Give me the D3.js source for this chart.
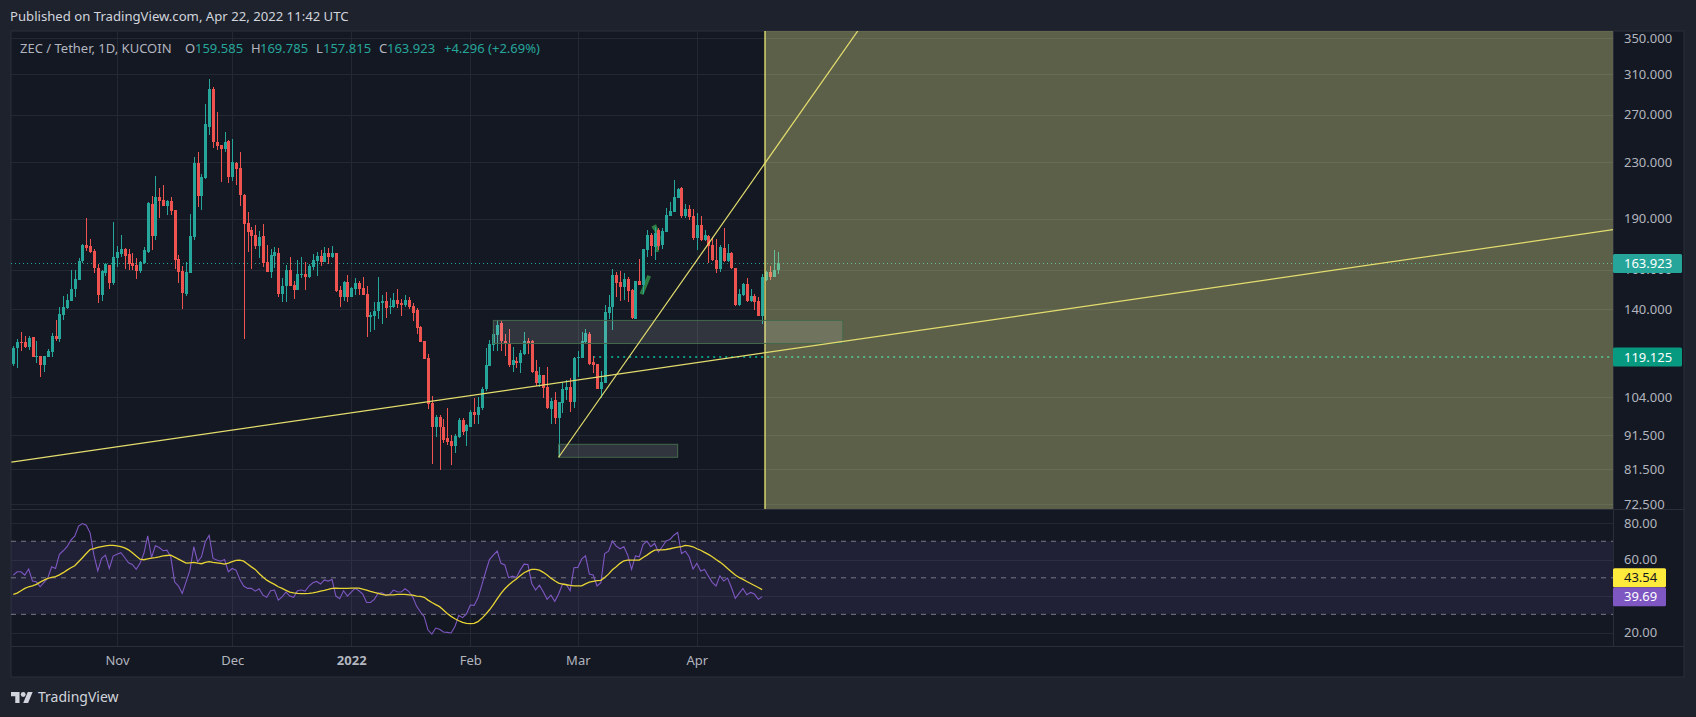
<!DOCTYPE html>
<html>
<head>
<meta charset="utf-8">
<script src="https://cdn.jsdelivr.net/npm/d3@7"></script>
<style>
  html, body { margin: 0; padding: 0; background: #1e222d; overflow: hidden; }
  svg { display: block; }
  text { font-family: "Noto Sans", sans-serif; }
  .axis path, .axis line { display: none; }
  .axis text { fill: #b2b5be; font-family: "Noto Sans", sans-serif; font-size: 13px; }
</style>
</head>
<body>
<svg id="chart" width="1696" height="717"></svg>
<script>
// DATA
const firstDay = '2021-10-05';
const lastDay = '2022-04-22';

const opens = [
  116.3,123.0,125.3,125.3,123.4,127.3,119.2,119.5,116.0,119.1,
  121.1,127.7,126.5,137.4,140.4,143.9,149.8,154.4,164.6,173.7,
  173.2,170.3,160.9,146.8,158.2,162.5,152.9,166.4,168.7,171.5,
  168.7,163.7,162.5,159.3,163.7,169.8,199.7,179.2,204.5,202.4,
  198.4,201.7,195.7,165.8,159.3,147.3,158.2,178.6,229.4,205.3,
  218,259,294.6,246.2,243.8,240.5,247,219,229.4,225.6,
  205.9,187.3,182.9,179.8,173.2,179.2,164.2,158.7,167.5,169.2,
  147.3,151.4,159.8,151.9,149.3,157.1,157.6,156,161.4,164.7,
  167.5,164.2,169.2,166.9,169.2,149.3,145.8,153.4,145.8,149.8,
  152.9,150.3,147.3,136.3,136.8,139.1,143,143.9,141,141,
  144.4,143,142,144.4,141.5,139.6,131.8,125.7,118.7,102,
  94,97.3,94,90.6,89.7,88.2,90.9,96.3,92.8,94,
  99,98,100.3,106.9,115.5,124,128.3,133.5,125.7,124.8,
  115.9,117.5,116.7,120.3,125.7,125.7,113.6,109.1,112.1,107.6,
  100,103,97,102,106.5,107.6,102.3,118.7,118.7,125.3,
  128.7,117.1,116.3,106.9,109.1,138.2,141,157.1,153.4,150.8,
  154.9,149.3,135.3,153.9,151.9,170.9,179.8,172.6,182.9,173.7,
  181.7,191.6,194.4,203.8,210.8,191.6,196.4,191.6,178,186,
  176.8,179.2,173.7,165.3,160.3,172,164.7,169.2,160.9,142,
  146.8,152.4,143.9,146.3,143.9,136.8,154.4,158.7,156,159.585
];
const highs = [
  123.8,126.8,129.5,127.8,128.1,127.6,125.7,119.5,119.5,122.3,
  129,134.9,140.9,146.3,147.2,159.6,159.6,166.2,174.3,190.5,
  177.2,171.3,163.1,159.8,163.7,162.5,188,173.2,179.8,172.2,
  171.5,169.2,166.4,164.7,172.6,200.9,205.2,219.5,210.8,212.9,
  202.4,204.5,195.7,168.1,162,164.2,193,234,238.2,221,
  280,304.7,296.6,272.6,243.8,254.7,247.9,248.7,230.2,238.2,
  206.6,194.4,184.8,186,182.3,186.7,173.7,171.5,172.6,172,
  155.4,162.5,167,153.9,165.3,167,164.2,163,168.7,169.8,
  170.9,172.6,172,173.2,169.2,151.4,153.9,157.1,150.8,155.4,
  153.9,156,151.4,138.7,143.4,156,146.8,148.3,145.3,147.8,
  149.8,144.9,146.8,145.8,143,140.5,132.3,125.7,120.3,104.4,
  98,98,96.6,100.3,91.5,91.8,97,97,95,99.6,
  103.7,104,107.6,122.7,126.1,130.9,134.9,134.5,128.7,130.9,
  123.1,119.1,121.9,129.6,127,126.1,117.9,115.2,112.1,115.2,
  103.7,105.8,102.3,109.4,110.2,111,119.1,121.5,129.6,130.9,
  129.6,119.5,116.3,113.6,142,146.8,160.3,158.7,159.3,158.2,
  156,149.8,153.9,165.8,171.5,182.9,181,184.8,184.2,184.2,
  197,201,216.6,210.8,211.5,199.7,199,196.4,193.7,191.9,
  182.9,179.8,178.6,177.4,173.7,184.2,174.3,169.8,160.9,149.8,
  152.9,155.4,149.8,147.3,145.8,157.6,159.3,162,170.9,169.785
];
const lows = [
  115.6,114.9,121.5,122.9,121.9,119.1,116.8,111.5,113.4,119.1,
  119.1,125.8,125.4,134.9,140,143.9,146,154.4,163.8,170.4,
  169.2,158.3,143.1,143.9,156.6,149.8,151.9,161.4,167.1,160.3,
  159.8,159.8,154.9,158.2,163.1,169.2,170.9,176.8,190.5,198.4,
  192.3,192.3,160.3,152.9,140.1,146.3,158.2,176.8,197.7,195.7,
  217.3,252,241.3,239.7,215.2,238.1,214.4,215.9,213,198.4,
  126.5,169.8,160.3,171.5,166.4,161.4,158.7,155.4,160.9,145.8,
  143.4,143.4,151.4,144.9,149.3,155.4,149.3,155.4,159.8,156.6,
  162,164.2,163.1,166.4,148.3,141,143.9,143.4,145.8,146.8,
  146.8,146.8,127.4,129.6,130.5,135.3,133.1,135.8,137.8,140.5,
  140.5,136.8,141,140,134.5,128.7,125.3,118.3,100,83,
  91,81.3,89.1,88.5,82.7,86.1,90.6,91.5,88.2,94,
  95,95,99.6,106.2,115.5,121.5,121.5,121.5,119.5,115.2,
  113.2,114.8,112.9,119.9,120.3,112.9,108,107.6,103.7,100,
  95,95,84.7,98.6,103,99,100.3,111.3,118.7,124.8,
  115.9,112.9,106.9,103.7,109.1,135.3,130.5,145.8,143.9,144.4,
  143.4,135.3,135.3,151.9,147.3,166.9,167.5,165.3,170.9,171.5,
  181.7,191.6,194.4,203.8,190.5,190.5,189.2,176.8,170.9,176.2,
  176.2,163.7,164.7,158.2,158.7,164.2,164.2,160.3,141.5,141.5,
  146.3,143.4,143.4,139.6,136.8,133.1,153.9,154.4,156,157.815
];
const closes = [
  123.0,125.3,125.0,123.2,127.2,119.1,119.5,116.0,119.5,121.5,
  127.7,126.5,137.8,140.9,144.4,150.1,154.8,164.6,173.7,171.9,
  169.6,160.9,146.8,159.3,163.3,152.9,166.9,169.8,171.5,167.5,
  163.1,162.0,159.3,164.2,170.9,200.4,179.2,204.5,201.7,198.4,
  201.7,195.0,165.3,158.7,147.8,158.7,179.2,229.4,205.3,218.8,
  261.8,294.6,246.2,243,240.5,246.2,219,230.2,224.8,205.9,
  186.7,181.7,179.2,173.2,178.6,163.7,158.7,168.1,169.8,147.3,
  151.4,159.8,151.4,149.3,157.6,157.6,156,162,165.3,167.5,
  164.2,169.2,166.9,169.2,148.8,145.8,153.4,145.8,150.3,152.9,
  149.8,146.8,136.3,137.2,139.1,143.4,143.9,140.5,141.5,144.4,
  142.5,142,144.4,141,138.2,131.4,125.3,118.3,101.6,94,
  97.3,94,90,89.4,88.2,91.2,96.3,92.5,94.7,99,
  98,100.6,106.9,115.9,124.4,128.7,132.7,125.7,124.4,115.9,
  117.9,116.7,120.7,125.7,124.8,113.2,109.1,112.1,107.2,100.3,
  102.6,97,102.3,106.9,107.6,102.3,118.7,119.1,125.7,129.2,
  116.3,115.9,106.9,109.5,138.7,141,157.1,152.9,150.8,154.9,
  148.8,135.8,153.9,151.9,171.5,179.8,173.2,181,173.2,182.3,
  192.3,195,204.5,210.1,191.6,196.4,191,178,186,176.8,
  179.8,173.2,165.3,160.3,172.6,164.7,169.2,160.9,142,147.3,
  152.4,143.9,146.3,143.4,136.8,156,158.7,156,159.8,163.923
];
const rsiValues = [
  51.5,53.3,53.3,51.5,54.8,48.2,47.8,45.1,47.5,50.0,
  56.0,55.1,62.9,64.8,67.0,70.6,72.8,78.3,79.7,78.8,
  74.6,62.4,53.8,60.6,62.4,55.1,61.9,62.9,63.7,61.1,
  58.2,57.3,54.6,57.9,63.3,73.0,61.1,67.5,66.6,64.8,
  65.1,61.5,47.8,45.5,41.5,47.8,54.2,67.0,58.8,61.5,
  69.7,73.3,60.6,59.7,59.1,60.0,53.3,55.1,54.2,49.1,
  45.5,44.2,44.2,42.7,44.0,40.5,39.3,42.9,43.3,37.8,
  39.6,42.2,40.0,39.3,42.9,43.3,42.7,45.5,47.3,48.0,
  46.6,48.8,48.2,49.1,40.0,38.6,42.9,40.0,42.2,44.2,
  42.9,41.1,36.5,36.5,38.2,41.5,41.8,40.5,40.9,43.3,
  42.4,42.2,44.0,42.4,39.6,34.5,31.4,28.7,21.4,19.2,
  22.5,21.8,20.3,20.1,19.8,23.3,29.4,28.2,30.2,35.1,
  34.9,39.1,46.0,53.3,60.0,62.4,64.6,57.9,57.0,50.0,
  50.9,50.2,54.2,57.5,57.3,46.9,43.3,46.0,42.4,38.2,
  40.5,37.1,41.1,46.4,46.4,42.9,55.5,55.7,60.2,62.0,
  52.0,51.5,45.5,47.3,63.3,64.6,70.1,67.3,65.9,67.0,
  62.4,54.6,62.0,61.5,68.2,70.1,67.0,68.8,64.2,67.0,
  70.2,71.0,73.3,74.8,63.3,64.6,61.5,54.8,57.9,53.7,
  54.6,50.9,47.5,45.5,51.1,48.2,49.8,44.7,38.7,41.5,
  44.2,40.7,42.0,41.1,38.2,39.69
];
const rsiMaValues = [
  40.9,41.6,42.9,44.2,45.1,45.6,46.4,47.6,48.7,49.7,
  50.2,50.7,51.6,52.8,54.2,55.5,56.6,58.8,61.0,63.3,
  65.5,66.0,66.6,67.1,67.5,67.7,67.7,67.5,67.1,66.4,
  65.3,63.7,61.9,60.2,59.9,60.4,60.8,61.1,61.5,62.0,
  62.2,62.4,61.3,60.2,59.1,58.0,58.2,58.4,58.0,57.7,
  58.4,58.8,58.4,58.2,57.9,57.5,58.0,58.8,59.5,59.7,
  59.1,57.5,56.0,54.6,52.4,50.4,48.7,47.5,46.4,45.1,
  44.2,43.1,42.2,41.8,41.5,41.3,41.3,41.5,41.8,42.2,
  42.7,43.1,43.6,44.2,44.4,44.2,44.2,44.2,44.4,44.4,
  44.4,43.8,43.3,42.6,42.0,41.5,40.9,40.5,40.7,40.7,
  40.9,40.9,40.9,40.7,40.5,40.0,39.8,39.3,37.8,36.5,
  35.3,34.2,32.4,30.5,28.9,27.6,26.5,25.6,25.1,24.9,
  25.1,26.0,27.8,30.0,32.5,35.3,38.4,41.5,44.0,46.0,
  47.8,49.3,51.1,52.8,53.8,54.6,54.6,54.2,53.0,51.5,
  49.8,48.4,47.1,46.6,46.2,45.8,45.6,45.6,45.6,46.7,
  47.6,48.0,48.4,48.6,50.2,52.0,54.4,56.0,57.9,59.3,
  59.7,59.7,59.7,59.7,61.1,62.4,63.9,65.1,65.3,65.3,
  65.5,65.9,66.4,66.8,67.1,67.7,67.5,67.0,65.9,65.1,
  63.9,62.8,61.5,60.0,58.6,57.0,55.1,53.3,51.5,50.2,
  49.1,48.0,46.9,45.8,44.7,43.54
];

// axis ticks
const priceTicks = [350, 310, 270, 230, 190, 160, 140, 104, 91.5, 81.5, 72.5];
const rsiTicks = [80, 60, 40, 20];
const rsiLevels = [70, 50, 30];
const monthTicks = ['2021-11-01', '2021-12-01', '2022-01-01', '2022-02-01', '2022-03-01', '2022-04-01'];
const lastPrice = 163.923;
const levelPrice = 119.125;
const levelStart = '2022-03-05';
const lastRsi = 39.69;
const lastRsiMa = 43.54;

// drawings on the price pane
const longTrendDates = ['2021-10-04T12:00Z', '2022-11-26T12:00Z'];
const longTrendPrices = [83.5, 183.5];
const steepTrendDates = ['2022-02-24T00:00Z', '2022-05-13T00:00Z'];
const steepTrendPrices = [84.9, 359.1];
const zoneDates = ['2022-04-18T18:00Z', '2022-11-26T12:00Z'];
const upperBoxDates = ['2022-02-07T00:00Z', '2022-05-09T00:00Z'];
const upperBoxPrices = [134.8, 124.7];
const lowerBoxDates = ['2022-02-24T00:00Z', '2022-03-27T00:00Z'];
const lowerBoxPrices = [88.7, 84.9];
const brushOneDates = ['2022-03-17T14:00Z', '2022-03-19T14:00Z'];
const brushOnePrices = [147.3, 156.8];
const brushTwoDates = ['2022-03-20T10:00Z', '2022-03-21T02:00Z', '2022-03-22T02:00Z', '2022-03-21T12:00Z'];
const brushTwoPrices = [184, 184.8, 178.4, 169.9];

// layout
const frame = { left: 11, right: 1684, top: 31, bottom: 677 };
const axisLeft = 1613;
const priceBottom = 509;
const rsiBottom = 646;

const colors = {
  up: '#26a69a', down: '#ef5350', grid: '#242832', border: '#2a2e39',
  paneBg: '#141823', pageBg: '#1e222d', text: '#b2b5be',
  trend: '#e4dd6e', level: '#089981', rsi: '#7e57c2', rsiMa: '#e8d534'
};

const days = d3.utcDay.range(new Date(firstDay), d3.utcDay.offset(new Date(lastDay), 1));
const candles = days.map((d, i) => ({ date: d, o: opens[i], h: highs[i], l: lows[i], c: closes[i] }));

const x = d3.scaleUtc()
  .domain([new Date(firstDay), new Date(lastDay)])
  .range([13.3, 777.5]);
const y = d3.scaleLog().domain([72.5, 350]).range([504, 38]);
const yRsi = d3.scaleLinear().domain([20, 80]).range([632.6, 523]);

const svg = d3.select('#chart');
const defs = svg.append('defs');
defs.append('clipPath').attr('id', 'clip-price').append('rect')
  .attr('x', frame.left).attr('y', frame.top)
  .attr('width', axisLeft - frame.left).attr('height', priceBottom - frame.top);
defs.append('clipPath').attr('id', 'clip-rsi').append('rect')
  .attr('x', frame.left).attr('y', priceBottom)
  .attr('width', axisLeft - frame.left).attr('height', rsiBottom - priceBottom);

// panes
svg.append('rect').attr('x', frame.left).attr('y', frame.top)
  .attr('width', frame.right - frame.left).attr('height', frame.bottom - frame.top)
  .attr('fill', colors.paneBg).attr('stroke', colors.border);

// grid
const gridLayer = svg.append('g').attr('shape-rendering', 'crispEdges').attr('stroke', colors.grid);
gridLayer.selectAll('.gp').data(priceTicks).join('line').attr('class', 'gp')
  .attr('x1', frame.left).attr('x2', axisLeft)
  .attr('y1', d => Math.round(y(d)) + 0.5).attr('y2', d => Math.round(y(d)) + 0.5);
gridLayer.selectAll('.gr').data(rsiTicks).join('line').attr('class', 'gr')
  .attr('x1', frame.left).attr('x2', axisLeft)
  .attr('y1', d => Math.round(yRsi(d)) + 0.5).attr('y2', d => Math.round(yRsi(d)) + 0.5);
gridLayer.selectAll('.gv').data(monthTicks).join('line').attr('class', 'gv')
  .attr('x1', d => Math.round(x(new Date(d))) + 0.5).attr('x2', d => Math.round(x(new Date(d))) + 0.5)
  .attr('y1', frame.top).attr('y2', rsiBottom);

// price pane
const price = svg.append('g').attr('clip-path', 'url(#clip-price)');
const lineXY = d3.line().x(d => x(new Date(d[0]))).y(d => y(d[1]));

function drawBox(dates, prices) {
  price.append('rect')
    .attr('x', x(new Date(dates[0]))).attr('y', y(prices[0]))
    .attr('width', x(new Date(dates[1])) - x(new Date(dates[0])))
    .attr('height', y(prices[1]) - y(prices[0]))
    .attr('fill', 'rgba(255,255,255,0.125)').attr('stroke', '#44694c');
}

// last price and level lines
const lastPriceY = Math.round(y(lastPrice)) + 0.5;
price.append('line').attr('x1', frame.left).attr('x2', axisLeft)
  .attr('y1', lastPriceY).attr('y2', lastPriceY)
  .attr('stroke', colors.up).attr('stroke-dasharray', '1 3');
price.append('line').attr('x1', x(new Date(levelStart))).attr('x2', axisLeft)
  .attr('y1', y(levelPrice)).attr('y2', y(levelPrice))
  .attr('stroke', colors.level).attr('stroke-width', 2).attr('stroke-dasharray', '2 4');

// hand drawn strokes
[[brushOneDates, brushOnePrices], [brushTwoDates, brushTwoPrices]].forEach(([dates, prices]) => {
  price.append('path')
    .attr('d', lineXY(dates.map((d, i) => [d, prices[i]])))
    .attr('fill', 'none').attr('stroke', '#2e7d42').attr('stroke-width', 4);
});

// candles
const candleGroup = price.append('g').attr('shape-rendering', 'crispEdges');
const candleColor = d => (d.c >= d.o ? colors.up : colors.down);
candleGroup.selectAll('.wick').data(candles).join('rect').attr('class', 'wick')
  .attr('x', d => Math.round(x(d.date)))
  .attr('width', 1)
  .attr('y', d => y(d.h))
  .attr('height', d => y(d.l) - y(d.h))
  .attr('fill', candleColor);
candleGroup.selectAll('.body').data(candles).join('rect').attr('class', 'body')
  .attr('x', d => Math.round(x(d.date)) - 1)
  .attr('width', 3)
  .attr('y', d => y(Math.max(d.o, d.c)))
  .attr('height', d => Math.max(1, Math.abs(y(d.o) - y(d.c))))
  .attr('fill', candleColor);

// projection zone goes over the candles
price.append('rect')
  .attr('x', x(new Date(zoneDates[0]))).attr('y', frame.top)
  .attr('width', x(new Date(zoneDates[1])) - x(new Date(zoneDates[0])))
  .attr('height', priceBottom - frame.top)
  .attr('fill', 'rgba(227,231,145,0.35)');
price.append('line')
  .attr('x1', x(new Date(zoneDates[0]))).attr('x2', x(new Date(zoneDates[0])))
  .attr('y1', frame.top).attr('y2', priceBottom)
  .attr('stroke', '#d3d26c').attr('stroke-width', 1.5);

drawBox(upperBoxDates, upperBoxPrices);
drawBox(lowerBoxDates, lowerBoxPrices);

[[longTrendDates, longTrendPrices], [steepTrendDates, steepTrendPrices]].forEach(([dates, prices]) => {
  price.append('path')
    .attr('d', lineXY(dates.map((d, i) => [d, prices[i]])))
    .attr('fill', 'none').attr('stroke', colors.trend).attr('stroke-width', 1.2);
});

// rsi pane
const rsiPane = svg.append('g').attr('clip-path', 'url(#clip-rsi)');
rsiPane.append('rect')
  .attr('x', frame.left).attr('width', axisLeft - frame.left)
  .attr('y', yRsi(rsiLevels[0])).attr('height', yRsi(rsiLevels[2]) - yRsi(rsiLevels[0]))
  .attr('fill', 'rgba(126,87,194,0.12)');
rsiPane.selectAll('.level').data(rsiLevels).join('line').attr('class', 'level')
  .attr('x1', frame.left).attr('x2', axisLeft)
  .attr('y1', d => yRsi(d)).attr('y2', d => yRsi(d))
  .attr('stroke', '#787b86').attr('stroke-dasharray', '5 5');
const rsiLine = d3.line().x((d, i) => x(days[i])).y(d => yRsi(d));
rsiPane.append('path').attr('d', rsiLine(rsiValues))
  .attr('fill', 'none').attr('stroke', colors.rsi).attr('stroke-width', 1.1);
rsiPane.append('path').attr('d', rsiLine(rsiMaValues))
  .attr('fill', 'none').attr('stroke', colors.rsiMa).attr('stroke-width', 1.3);

// separators
const separators = svg.append('g').attr('stroke', '#2a2e39').attr('shape-rendering', 'crispEdges');
separators.append('line').attr('x1', axisLeft).attr('x2', axisLeft).attr('y1', frame.top).attr('y2', rsiBottom);
separators.append('line').attr('x1', frame.left).attr('x2', frame.right).attr('y1', priceBottom).attr('y2', priceBottom);
separators.append('line').attr('x1', frame.left).attr('x2', frame.right).attr('y1', rsiBottom).attr('y2', rsiBottom);

// axes
svg.append('g').attr('class', 'axis').attr('transform', `translate(${axisLeft},0)`)
  .call(d3.axisRight(y).tickValues(priceTicks).tickFormat(d3.format('.3f')).tickSize(0).tickPadding(11));
svg.append('g').attr('class', 'axis').attr('transform', `translate(${axisLeft},0)`)
  .call(d3.axisRight(yRsi).tickValues(rsiTicks).tickFormat(d3.format('.2f')).tickSize(0).tickPadding(11));
const timeAxis = svg.append('g').attr('class', 'axis').attr('transform', `translate(0,${rsiBottom})`)
  .call(d3.axisBottom(x).tickValues(monthTicks.map(d => new Date(d)))
    .tickFormat(d => (d.getUTCMonth() === 0 ? d3.utcFormat('%Y')(d) : d3.utcFormat('%b')(d)))
    .tickSize(0).tickPadding(10));
timeAxis.selectAll('text').style('font-weight', d => (d.getUTCMonth() === 0 ? 700 : 400));

// value labels on the axes
function axisLabel(cy, width, text, fill, textFill) {
  svg.append('rect').attr('x', axisLeft).attr('y', cy - 9.5)
    .attr('width', width).attr('height', 19).attr('rx', 1.5).attr('fill', fill);
  svg.append('text').attr('x', axisLeft + 11).attr('y', cy).attr('dy', '0.35em')
    .attr('font-size', 13).attr('fill', textFill).text(text);
}
axisLabel(lastPriceY, 69, d3.format('.3f')(lastPrice), '#26a69a', '#ffffff');
axisLabel(y(levelPrice), 69, d3.format('.3f')(levelPrice), '#089981', '#ffffff');
axisLabel(yRsi(lastRsi) - 19, 53, d3.format('.2f')(lastRsiMa), '#ffeb3b', '#131722');
axisLabel(yRsi(lastRsi), 53, d3.format('.2f')(lastRsi), colors.rsi, '#ffffff');

// header
svg.append('text').attr('x', 10).attr('y', 21).attr('font-size', 13.15).attr('fill', '#d1d4dc')
  .text('Published on TradingView.com, Apr 22, 2022 11:42 UTC');

const last = candles[candles.length - 1];
const legendParts = [
  [20, 'ZEC / Tether, 1D, KUCOIN', colors.text],
  [185, 'O', colors.text], [195, d3.format('.3f')(last.o), colors.up],
  [251, 'H', colors.text], [260, d3.format('.3f')(last.h), colors.up],
  [316, 'L', colors.text], [323, d3.format('.3f')(last.l), colors.up],
  [379, 'C', colors.text], [387, d3.format('.3f')(last.c), colors.up],
  [444, '+4.296 (+2.69%)', colors.up]
];
svg.append('g').selectAll('text').data(legendParts).join('text')
  .attr('x', d => d[0]).attr('y', 53).attr('font-size', 13)
  .attr('fill', d => d[2]).text(d => d[1]);

// footer logo
const logo = svg.append('g').attr('transform', 'translate(11,689.6) scale(0.61)').attr('fill', '#d1d4dc');
logo.append('path').attr('d', 'M14 22H7V11H0V4h14v18zM28 22h-8l7.5-18h8L28 22z');
logo.append('circle').attr('cx', 20).attr('cy', 8).attr('r', 4);
svg.append('text').attr('x', 38).attr('y', 702).attr('font-size', 14).attr('fill', '#d1d4dc').text('TradingView');
</script>
</body>
</html>
